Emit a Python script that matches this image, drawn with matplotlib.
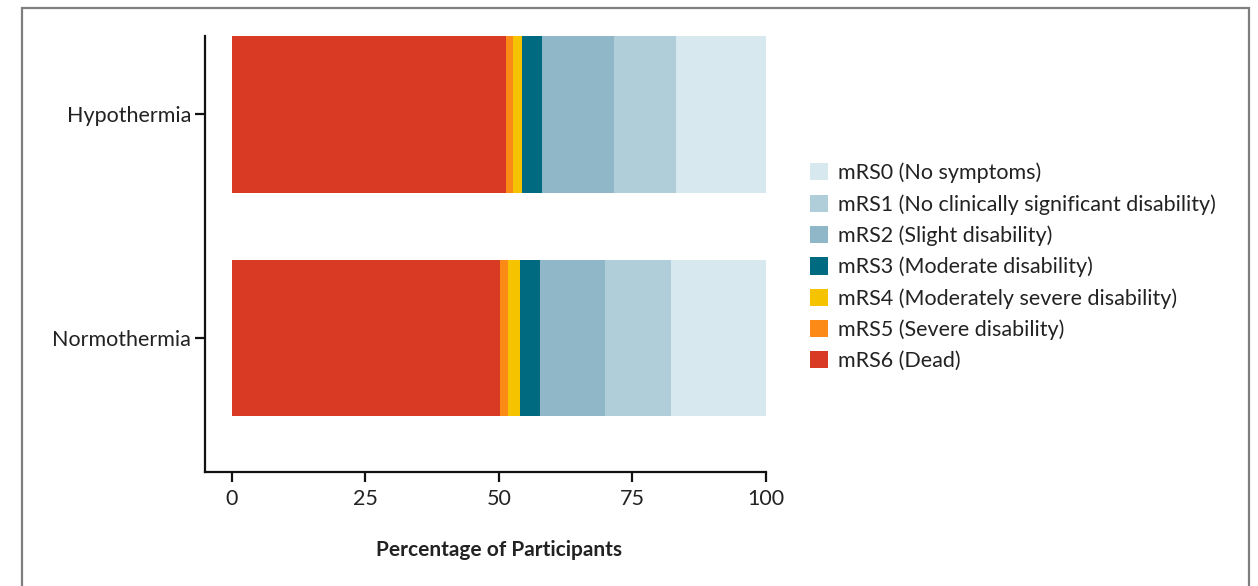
import matplotlib
matplotlib.use("Agg")
import matplotlib.pyplot as plt
from matplotlib.patches import Rectangle, Patch

plt.rcParams['font.family'] = ['Lato', 'DejaVu Sans']

groups = ["Normothermia", "Hypothermia"]
categories = ["mRS6 (Dead)", "mRS5 (Severe disability)", "mRS4 (Moderately severe disability)",
              "mRS3 (Moderate disability)", "mRS2 (Slight disability)",
              "mRS1 (No clinically significant disability)", "mRS0 (No symptoms)"]
# percentages per category, [Normothermia, Hypothermia]
mrs6 = [50.2, 51.3]
mrs5 = [1.5, 1.3]
mrs4 = [2.3, 1.8]
mrs3 = [3.7, 3.7]
mrs2 = [12.2, 13.5]
mrs1 = [12.3, 11.5]
mrs0 = [17.8, 16.9]
series = [mrs6, mrs5, mrs4, mrs3, mrs2, mrs1, mrs0]
colors = ["#d93a23", "#fb8a16", "#f5c300", "#006a80", "#8fb7c7", "#b0ced9", "#d8e8ef"]
xticks = [0, 25, 50, 75, 100]

fig = plt.figure(figsize=(12.58, 5.86), dpi=100)
fig.patches.append(Rectangle((22/1258, -0.1), (1249-22)/1258, 1.1 - 8/586, transform=fig.transFigure,
                             fill=False, edgecolor="#7f7f7f", linewidth=1.6))
ax = fig.add_axes([205/1258, 1-472/586, (766-205)/1258, (472-36)/586])

ypos = list(range(len(groups)))
left = [0.0] * len(groups)
for vals, col, lab in zip(series, colors, categories):
    ax.barh(ypos, vals, left=left, height=0.70, color=col, label=lab, linewidth=0)
    left = [l + v for l, v in zip(left, vals)]

ax.set_xlim(-5, 100)
ax.set_ylim(-0.6, 1.351)
ax.set_yticks(ypos)
ax.set_yticklabels(groups, fontsize=15.5, color="#222222")
ax.set_xticks(xticks)
ax.set_xticklabels([str(t) for t in xticks], fontsize=15.5, color="#222222")
for s in ["top", "right"]:
    ax.spines[s].set_visible(False)
for s in ["left", "bottom"]:
    ax.spines[s].set_linewidth(1.6)
    ax.spines[s].set_color("#111111")
ax.tick_params(axis="both", length=7, width=1.6, color="#111111")
ax.tick_params(axis="x", pad=5)
ax.tick_params(axis="y", pad=3)
ax.set_xlabel("Percentage of Participants", fontsize=15, fontweight="bold", color="#222222")
ax.xaxis.set_label_coords((499-205)/561, -0.155)

handles = [Patch(facecolor=c, edgecolor="none") for c in colors[::-1]]
fig.legend(handles, categories[::-1], loc="upper left", bbox_to_anchor=(799/1258, 1-152/586),
           frameon=False, fontsize=15.5, handlelength=0.85, handleheight=0.85,
           handletextpad=0.45, labelspacing=0.5, borderpad=0, labelcolor="#222222")

fig.savefig("out.png", dpi=100)
